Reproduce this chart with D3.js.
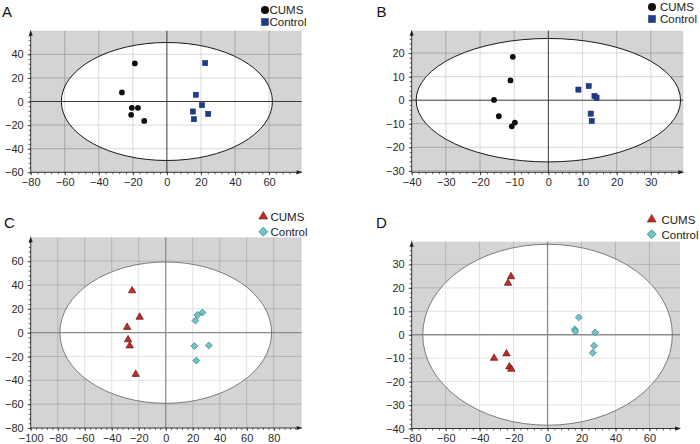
<!DOCTYPE html>
<html>
<head>
<meta charset="utf-8">
<script src="https://cdn.jsdelivr.net/npm/d3@7"></script>
<style>
  body { margin: 0; background: #fff; }
  text { font-family: "Liberation Sans", Arial, sans-serif; }
</style>
</head>
<body>
<div id="chart"></div>
<script>
// score values, [t1, t2]
var aCums = [[-18.8, 32.3], [-26.4, 7.7], [-20.6, -5.4], [-17.0, -5.4], [-21.0, -11.3], [-13.3, -16.5]];
var aControl = [[22.5, 32.6], [17.0, 5.7], [20.6, -3.1], [15.3, -8.5], [24.3, -10.5], [15.9, -15.0]];
var bCums = [[-10.4, 18.4], [-11.1, 8.4], [-15.9, 0.1], [-14.5, -6.8], [-9.8, -9.5], [-10.7, -11.1]];
var bControl = [[8.8, 4.5], [11.8, 6.0], [13.5, 1.8], [14.1, 1.1], [12.4, -5.7], [12.7, -8.8]];
var cCums = [[-24.9, 35.2], [-19.3, 13.0], [-28.6, 4.5], [-27.9, -5.9], [-26.7, -11.0], [-22.2, -34.9]];
var cControl = [[27.2, 16.9], [23.5, 14.9], [22.0, 10.1], [21.2, -11.3], [31.9, -10.7], [22.7, -23.4]];
var dCums = [[-21.5, 24.8], [-23.3, 22.0], [-31.5, -10.0], [-24.2, -8.1], [-22.5, -13.7], [-21.3, -14.7]];
var dControl = [[18.4, 7.4], [16.0, 2.3], [16.4, 1.4], [28.0, 1.0], [27.4, -4.7], [26.6, -7.7]];

// Hotelling ellipse half-axes [t1, t2]
var ellipseA = [62, 50];
var ellipseB = [38.7, 26.2];
var ellipseC = [78.4, 59.3];
var ellipseD = [73.5, 38.6];

var xTicksA = [-80, -60, -40, -20, 0, 20, 40, 60];
var yTicksA = [-60, -40, -20, 0, 20, 40];
var xTicksB = [-40, -30, -20, -10, 0, 10, 20, 30];
var yTicksB = [-30, -20, -10, 0, 10, 20];
var xTicksC = [-100, -80, -60, -40, -20, 0, 20, 40, 60, 80];
var yTicksC = [-80, -60, -40, -20, 0, 20, 40, 60];
var xTicksD = [-80, -60, -40, -20, 0, 20, 40, 60];
var yTicksD = [-40, -30, -20, -10, 0, 10, 20, 30];

var groups = ["CUMS", "Control"];

var width = 700, height = 444;

var svg = d3.select('#chart')
  .append('svg')
  .attr('width', width)
  .attr('height', height);

var panels = [
  {id: "A", cums: aCums, control: aControl, ell: ellipseA, xt: xTicksA, yt: yTicksA,
   xDom: [-80, 79.2], yDom: [-60, 60], left: 30.7, right: 301.7, top: 30.7, bottom: 172.3,
   label: [2, 16.7], leg: [265, 10, 269.5, 14, 25.5], style: "dark"},
  {id: "B", cums: bCums, control: bControl, ell: ellipseB, xt: xTicksB, yt: yTicksB,
   xDom: [-40, 39.5], yDom: [-30.6, 29.5], left: 411.7, right: 683.3, top: 30.7, bottom: 172.3,
   label: [376.5, 16.7], leg: [652, 7, 660, 11, 23], style: "dark"},
  {id: "C", cums: cCums, control: cControl, ell: ellipseC, xt: xTicksC, yt: yTicksC,
   xDom: [-100, 100.7], yDom: [-80, 80], left: 30.7, right: 301.7, top: 237.3, bottom: 428,
   label: [4, 228.3], leg: [263.3, 216.5, 270.5, 220.5, 236], style: "light"},
  {id: "D", cums: dCums, control: dControl, ell: ellipseD, xt: xTicksD, yt: yTicksD,
   xDom: [-80, 78], yDom: [-40, 39.7], left: 411.7, right: 680, top: 241.7, bottom: 428.5,
   label: [376, 228.3], leg: [651.7, 219.5, 661.5, 223.5, 238.5], style: "light"}
];

panels.forEach(drawPanel);

function drawPanel(p) {
  var g = svg.append('g');
  var x = d3.scaleLinear().domain(p.xDom).range([p.left, p.right]);
  var y = d3.scaleLinear().domain(p.yDom).range([p.bottom, p.top]);
  var dark = p.style == "dark";

  var cx = x(0), cy = y(0);
  var rx = x(p.ell[0]) - x(0), ry = y(0) - y(p.ell[1]);

  var clipId = "clip" + p.id;
  svg.append('clipPath').attr('id', clipId)
    .append('ellipse').attr('cx', cx).attr('cy', cy).attr('rx', rx).attr('ry', ry);

  // gray background
  g.append('rect')
    .attr('x', p.left).attr('y', p.top)
    .attr('width', p.right - p.left).attr('height', p.bottom - p.top)
    .attr('fill', '#d4d4d4');

  function grid(sel, color) {
    sel.selectAll('.vx').data(p.xt.filter(d => d > p.xDom[0] && d != 0)).join('line')
      .attr('x1', d => x(d)).attr('x2', d => x(d))
      .attr('y1', p.top).attr('y2', p.bottom)
      .attr('stroke', color).attr('stroke-width', 0.8);
    sel.selectAll('.hy').data(p.yt.filter(d => d > p.yDom[0] && d != 0)).join('line')
      .attr('y1', d => y(d)).attr('y2', d => y(d))
      .attr('x1', p.left).attr('x2', p.right)
      .attr('stroke', color).attr('stroke-width', 0.8);
  }

  grid(g.append('g'), dark ? '#9c9c9c' : '#acacac');

  g.append('ellipse')
    .attr('cx', cx).attr('cy', cy).attr('rx', rx).attr('ry', ry)
    .attr('fill', '#fff');

  grid(g.append('g').attr('clip-path', 'url(#' + clipId + ')'), dark ? '#cfcfcf' : '#dcdcdc');

  // zero lines
  var zc = dark ? '#3a3a3a' : '#8c8c8c';
  g.append('line').attr('x1', p.left).attr('x2', p.right).attr('y1', cy).attr('y2', cy)
    .attr('stroke', zc).attr('stroke-width', dark ? 1 : 1.3);
  g.append('line').attr('x1', cx).attr('x2', cx).attr('y1', p.top).attr('y2', p.bottom)
    .attr('stroke', zc).attr('stroke-width', dark ? 1 : 1.3);

  g.append('ellipse')
    .attr('cx', cx).attr('cy', cy).attr('rx', rx).attr('ry', ry)
    .attr('fill', 'none')
    .attr('stroke', dark ? '#1a1a1a' : '#6e6e6e')
    .attr('stroke-width', dark ? 1 : 0.9);

  // axes
  var xStep = p.xt[1] - p.xt[0], yStep = p.yt[1] - p.yt[0];
  var xMinor = d3.range(p.xDom[0], p.xDom[1] - 1, xStep / 5);
  var yMinor = d3.range(p.yt[0], p.yDom[1] - 1, yStep / 5);

  var xa = g.append('g').attr('transform', 'translate(0,' + p.bottom + ')')
    .call(d3.axisBottom(x).tickValues(p.xt).tickSize(3).tickPadding(3));
  var xm = g.append('g').attr('transform', 'translate(0,' + p.bottom + ')')
    .call(d3.axisBottom(x).tickValues(xMinor).tickSize(2).tickFormat(''));
  var ya = g.append('g').attr('transform', 'translate(' + p.left + ',0)')
    .call(d3.axisLeft(y).tickValues(p.yt).tickSize(3).tickPadding(4));
  var ym = g.append('g').attr('transform', 'translate(' + p.left + ',0)')
    .call(d3.axisLeft(y).tickValues(yMinor).tickSize(2).tickFormat(''));

  [xa, xm, ya, ym].forEach(function (a) {
    a.select('.domain').remove();
    a.selectAll('line').attr('stroke', '#222').attr('stroke-width', 0.7);
    a.selectAll('text')
      .attr('fill', '#2a2a2a')
      .style('font-size', '11px')
      .style('font-family', '"Liberation Sans", Arial, sans-serif');
  });

  // axis lines with arrow heads
  g.append('line').attr('x1', p.left).attr('x2', p.right - 3)
    .attr('y1', p.bottom).attr('y2', p.bottom).attr('stroke', '#222').attr('stroke-width', 0.9);
  g.append('line').attr('x1', p.left).attr('x2', p.left)
    .attr('y1', p.bottom).attr('y2', p.top + 3).attr('stroke', '#222').attr('stroke-width', 0.9);
  g.append('path')
    .attr('d', 'M' + (p.right + 1) + ',' + p.bottom + 'l-6,-2l0,4z')
    .attr('fill', '#222');
  g.append('path')
    .attr('d', 'M' + p.left + ',' + (p.top - 1) + 'l-2,6l4,0z')
    .attr('fill', '#222');

  // points
  if (dark) {
    g.selectAll('.cums').data(p.cums).join('circle')
      .attr('cx', d => x(d[0])).attr('cy', d => y(d[1])).attr('r', 2.9)
      .attr('fill', '#0e0e0e');
    g.selectAll('.ctrl').data(p.control).join('rect')
      .attr('x', d => x(d[0]) - 2.6).attr('y', d => y(d[1]) - 2.6)
      .attr('width', 5.2).attr('height', 5.2)
      .attr('fill', '#1f3c88').attr('stroke', '#112a66').attr('stroke-width', 0.5);
  } else {
    var tri = d3.symbol().type(d3.symbolTriangle).size(24);
    var dia = d3.symbol().type(d3.symbolSquare).size(24);
    g.selectAll('.cums').data(p.cums).join('path')
      .attr('d', tri)
      .attr('transform', d => 'translate(' + x(d[0]) + ',' + y(d[1]) + ')')
      .attr('fill', '#c42a22').attr('stroke', '#4a0c08').attr('stroke-width', 0.6);
    g.selectAll('.ctrl').data(p.control).join('path')
      .attr('d', dia)
      .attr('transform', d => 'translate(' + x(d[0]) + ',' + y(d[1]) + ') rotate(45)')
      .attr('fill', '#6ec6cb').attr('stroke', '#2b6c74').attr('stroke-width', 0.6);
  }

  // legend
  var L = p.leg;
  var lg = g.append('g');
  if (dark) {
    lg.append('circle').attr('cx', L[0]).attr('cy', L[1]).attr('r', 4).attr('fill', '#0e0e0e');
    lg.append('rect').attr('x', L[0] - 3.5).attr('y', L[1] + 12 - 3.5)
      .attr('width', 7).attr('height', 7)
      .attr('fill', '#1f3c88').attr('stroke', '#112a66').attr('stroke-width', 0.5);
  } else {
    lg.append('path').attr('d', d3.symbol().type(d3.symbolTriangle).size(34))
      .attr('transform', 'translate(' + L[0] + ',' + L[1] + ')')
      .attr('fill', '#c42a22').attr('stroke', '#4a0c08').attr('stroke-width', 0.5);
    lg.append('path').attr('d', d3.symbol().type(d3.symbolSquare).size(40))
      .attr('transform', 'translate(' + L[0] + ',' + (L[4] - 4.3) + ') rotate(45)')
      .attr('fill', '#6ec6cb').attr('stroke', '#2b6c74').attr('stroke-width', 0.6);
  }
  lg.selectAll('text').data(groups).join('text')
    .attr('x', L[2])
    .attr('y', (d, i) => i == 0 ? L[3] : L[4])
    .attr('fill', '#222')
    .style('font-size', '11.5px')
    .text(d => d);

  // panel letter
  g.append('text')
    .attr('x', p.label[0]).attr('y', p.label[1])
    .attr('fill', '#111')
    .style('font-size', '15px')
    .text(p.id);
}
</script>
</body>
</html>
